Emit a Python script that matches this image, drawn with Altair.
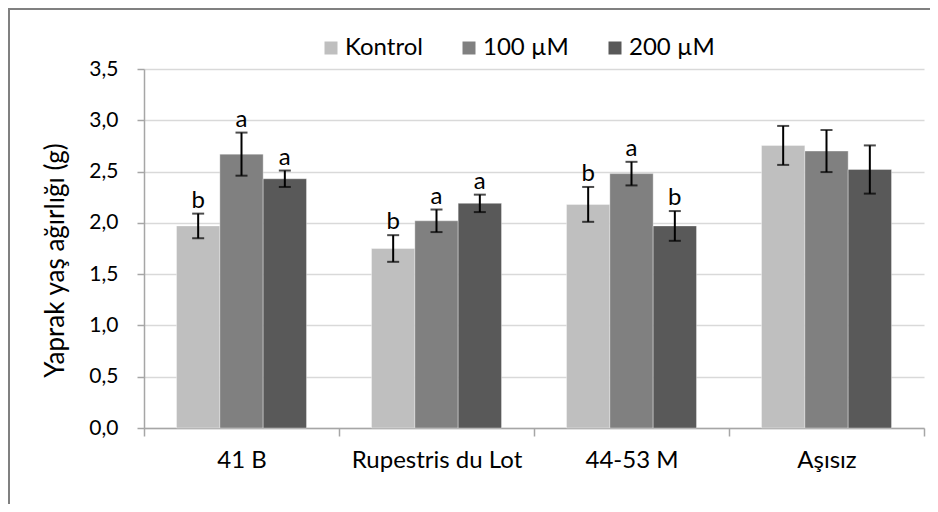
import altair as alt
import pandas as pd

groups = ["41 B", "Rupestris du Lot", "44-53 M", "Aşısız"]
treatments = ["Kontrol", "100 µM", "200 µM"]
colors = ["#BFBFBF", "#808080", "#595959"]

kontrol = [1.97, 1.75, 2.18, 2.755]
um100 = [2.67, 2.02, 2.48, 2.70]
um200 = [2.43, 2.19, 1.97, 2.52]

err_kontrol = [0.12, 0.13, 0.17, 0.19]
err_100 = [0.21, 0.11, 0.115, 0.205]
err_200 = [0.08, 0.085, 0.145, 0.235]

let_kontrol = ["b", "b", "b", ""]
let_100 = ["a", "a", "a", ""]
let_200 = ["a", "a", "b", ""]

y_ticks = [0, 0.5, 1.0, 1.5, 2.0, 2.5, 3.0, 3.5]

rows = []
for t, vals, errs, lets in [
    (treatments[0], kontrol, err_kontrol, let_kontrol),
    (treatments[1], um100, err_100, let_100),
    (treatments[2], um200, err_200, let_200),
]:
    for g, v, e, l in zip(groups, vals, errs, lets):
        rows.append({"group": g, "treatment": t, "value": v,
                     "lo": v - e, "hi": v + e, "letter": l})
df = pd.DataFrame(rows)

FONT = "Lato"

x_enc = alt.X("group:N", sort=groups,
              scale=alt.Scale(paddingInner=0, paddingOuter=0),
              axis=alt.Axis(title=None))
xo_enc = alt.XOffset("treatment:N", sort=treatments,
                     scale=alt.Scale(paddingInner=0, paddingOuter=0.75))

base = alt.Chart(df)

bars = base.mark_bar(stroke="#FFFFFF", strokeWidth=0.7, strokeOpacity=0.5).encode(
    x=x_enc,
    xOffset=xo_enc,
    y=alt.Y("value:Q",
            scale=alt.Scale(domain=[0, 3.5], nice=False, zero=True),
            axis=alt.Axis(values=y_ticks,
                          labelExpr="replace(format(datum.value, '.1f'), '.', ',')",
                          title="Yaprak yaş ağırlığı (g)")),
    color=alt.Color("treatment:N", sort=treatments,
                    scale=alt.Scale(domain=treatments, range=colors),
                    legend=alt.Legend(title=None, orient="none", direction="horizontal",
                                      legendX=175, legendY=-33, padding=0,
                                      symbolType="square", symbolSize=169,
                                      symbolStrokeWidth=0, labelFontSize=24,
                                      labelColor="#000000", labelOffset=2,
                                      columnPadding=34)),
)

xs = dict(x=alt.X("group:N", sort=groups, axis=alt.Axis(title=None)),
          xOffset=alt.XOffset("treatment:N", sort=treatments))

rules = base.mark_rule(color="#000000", strokeWidth=2).encode(
    y=alt.Y("lo:Q", axis=alt.Axis(title="Yaprak yaş ağırlığı (g)", values=y_ticks,
                          labelExpr="replace(format(datum.value, '.1f'), '.', ',')")),
    y2="hi:Q", **xs)

cap_lo = base.mark_tick(color="#000000", thickness=2, size=12, orient="horizontal").encode(
    y="lo:Q", **xs)
cap_hi = base.mark_tick(color="#000000", thickness=2, size=12, orient="horizontal").encode(
    y="hi:Q", **xs)

letters = base.mark_text(fontSize=24, color="#000000", baseline="alphabetic", dy=-6).encode(
    y="hi:Q", text="letter:N", **xs)

border = alt.Chart(pd.DataFrame({"a": [0]})).mark_rect(
    filled=False, stroke="#808080", strokeWidth=2).encode(
    x=alt.value(-135), x2=alt.value(1000), y=alt.value(-60), y2=alt.value(700))

chart = alt.layer(border, bars, rules, cap_lo, cap_hi, letters).properties(
    width=780, height=359,
    autosize=alt.AutoSizeParams(type="none"),
    padding={"left": 136, "top": 61, "right": 6, "bottom": 76},
).configure(font=FONT).configure_view(stroke=None).configure_axis(
    labelColor="#000000", titleColor="#000000", titleFontWeight="normal",
    domainColor="#A6A6A6", tickColor="#A6A6A6", domainWidth=1.5, tickWidth=1.5,
).configure_axisX(
    labelAngle=0, tickBand="extent", labelFontSize=24, labelPadding=12,
    tickSize=8, grid=False,
).configure_axisY(
    labelFontSize=21, labelPadding=19, tickSize=7,
    gridColor="#D9D9D9", gridWidth=1.5, grid=True,
    titleFontSize=26, titleX=-89, titleY=191, titleAngle=-90,
    titleAlign="center", titleBaseline="middle",
)

chart.save("out.html", embed_options={"renderer": "svg", "actions": False})
